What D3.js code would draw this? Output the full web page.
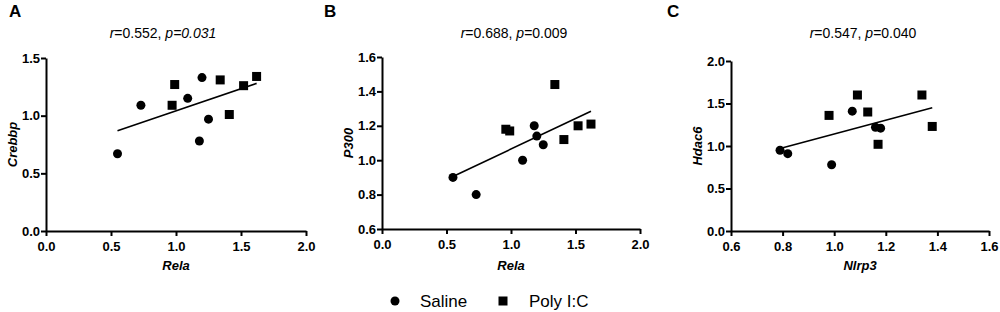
<!DOCTYPE html>
<html lang="en">
<head>
    <meta charset="UTF-8">
    <title></title>
    <style type="text/css">
        html, body { padding:0; margin:0; background:#fff; }
        svg { font-family: Arial, "Liberation Sans", sans-serif; }
        .axis path, .axis line { stroke:#000; stroke-width:2px; }
        .axis text { font-size:13px; font-weight:bold; fill:#000; }
    </style>
</head>
<body>
<script src="https://d3js.org/d3.v7.min.js"></script>
<script>
    // panel A: Crebbp vs Rela
    var salineA = [[0.55, 0.67], [0.73, 1.09], [1.09, 1.15], [1.20, 1.33], [1.25, 0.97], [1.18, 0.78]];
    var polyA   = [[0.97, 1.09], [0.99, 1.27], [1.34, 1.31], [1.41, 1.01], [1.52, 1.26], [1.62, 1.34]];
    var fitA    = [[0.55, 0.87], [1.62, 1.28]];

    // panel B: P300 vs Rela
    var salineB = [[0.55, 0.90], [0.73, 0.80], [1.09, 1.00], [1.18, 1.20], [1.20, 1.14], [1.25, 1.09]];
    var polyB   = [[0.96, 1.18], [0.99, 1.17], [1.34, 1.44], [1.41, 1.12], [1.52, 1.20], [1.62, 1.21]];
    var fitB    = [[0.55, 0.905], [1.62, 1.285]];

    // panel C: Hdac6 vs Nlrp3
    var salineC = [[0.79, 0.95], [0.82, 0.91], [0.99, 0.78], [1.07, 1.41], [1.16, 1.22], [1.18, 1.21]];
    var polyC   = [[0.98, 1.36], [1.09, 1.60], [1.13, 1.40], [1.17, 1.02], [1.34, 1.60], [1.38, 1.23]];
    var fitC    = [[0.79, 0.97], [1.38, 1.45]];

    var xTicksAB = [0, 0.5, 1.0, 1.5, 2.0];
    var yTicksA  = [0, 0.5, 1.0, 1.5];
    var yTicksB  = [0.6, 0.8, 1.0, 1.2, 1.4, 1.6];
    var xTicksC  = [0.6, 0.8, 1.0, 1.2, 1.4, 1.6];
    var yTicksC  = [0, 0.5, 1.0, 1.5, 2.0];

    var legendLabels = ['Saline', 'Poly I:C'];

    var panels = [
        { letter: 'A', lx: 9, left: 46, right: 306, top: 58, bottom: 231, tx: 163,
          xDomain: [0, 2], yDomain: [0, 1.5], xTicks: xTicksAB, yTicks: yTicksA,
          xLabel: 'Rela', yLabel: 'Crebbp', r: '0.552', p: '0.031', pItalic: true,
          saline: salineA, poly: polyA, fit: fitA },
        { letter: 'B', lx: 324, left: 382, right: 640, top: 57, bottom: 229, tx: 514,
          xDomain: [0, 2], yDomain: [0.6, 1.6], xTicks: xTicksAB, yTicks: yTicksB,
          xLabel: 'Rela', yLabel: 'P300', r: '0.688', p: '0.009', pItalic: false,
          saline: salineB, poly: polyB, fit: fitB },
        { letter: 'C', lx: 667, left: 731, right: 989, top: 61, bottom: 231, tx: 863,
          xDomain: [0.6, 1.6], yDomain: [0, 2], xTicks: xTicksC, yTicks: yTicksC,
          xLabel: 'Nlrp3', yLabel: 'Hdac6', r: '0.547', p: '0.040', pItalic: false,
          saline: salineC, poly: polyC, fit: fitC }
    ];

    var svg = d3.select('body').append('svg')
        .attr('width', 1000)
        .attr('height', 312);

    var sq = 9;

    panels.forEach(function(d) {
        var x = d3.scaleLinear().domain(d.xDomain).range([d.left, d.right]);
        var y = d3.scaleLinear().domain(d.yDomain).range([d.bottom, d.top]);
        var g = svg.append('g');

        g.append('text')
         .attr('x', d.lx).attr('y', 17)
         .style('font-size', '17px').style('font-weight', 'bold')
         .text(d.letter);

        // r / p title
        var t = g.append('text')
         .attr('x', d.tx).attr('y', 38)
         .attr('text-anchor', 'middle')
         .style('font-size', '14px');
        t.append('tspan').style('font-style', 'italic').text('r');
        t.append('tspan').text('=' + d.r + ', ');
        t.append('tspan').style('font-style', 'italic').text('p');
        t.append('tspan').style('font-style', d.pItalic ? 'italic' : 'normal').text('=' + d.p);

        g.append('g').attr('class', 'axis')
         .attr('transform', 'translate(0,' + d.bottom + ')')
         .call(d3.axisBottom(x).tickValues(d.xTicks).tickFormat(d3.format('.1f')).tickSize(5).tickSizeOuter(0).tickPadding(6));

        g.append('g').attr('class', 'axis')
         .attr('transform', 'translate(' + d.left + ',0)')
         .call(d3.axisLeft(y).tickValues(d.yTicks).tickFormat(d3.format('.1f')).tickSize(5).tickSizeOuter(0).tickPadding(1));

        g.append('text')
         .attr('x', (d.left + d.right) / 2).attr('y', 270)
         .attr('text-anchor', 'middle')
         .style('font-size', '13px').style('font-weight', 'bold').style('font-style', 'italic')
         .text(d.xLabel);

        g.append('text')
         .attr('transform', 'translate(' + (d.left - 29) + ',' + ((d.top + d.bottom) / 2) + ') rotate(-90)')
         .attr('text-anchor', 'middle')
         .style('font-size', '13px').style('font-weight', 'bold').style('font-style', 'italic')
         .text(d.yLabel);

        g.append('line')
         .attr('x1', x(d.fit[0][0])).attr('y1', y(d.fit[0][1]))
         .attr('x2', x(d.fit[1][0])).attr('y2', y(d.fit[1][1]))
         .attr('stroke', '#000').attr('stroke-width', 1.6);

        g.selectAll('.sal').data(d.saline).enter().append('circle')
         .attr('cx', function(v) { return x(v[0]); })
         .attr('cy', function(v) { return y(v[1]); })
         .attr('r', 4.5).attr('fill', '#000');

        g.selectAll('.poly').data(d.poly).enter().append('rect')
         .attr('x', function(v) { return x(v[0]) - sq / 2; })
         .attr('y', function(v) { return y(v[1]) - sq / 2; })
         .attr('width', sq).attr('height', sq).attr('fill', '#000');
    });

    // legend
    var leg = svg.append('g');
    leg.append('circle').attr('cx', 395).attr('cy', 301).attr('r', 4.5).attr('fill', '#000');
    leg.append('text').attr('x', 420).attr('y', 307).style('font-size', '17px').text(legendLabels[0]);
    leg.append('rect').attr('x', 498.5).attr('y', 296.5).attr('width', sq).attr('height', sq).attr('fill', '#000');
    leg.append('text').attr('x', 529).attr('y', 307).style('font-size', '17px').text(legendLabels[1]);
</script>
</body>
</html>
